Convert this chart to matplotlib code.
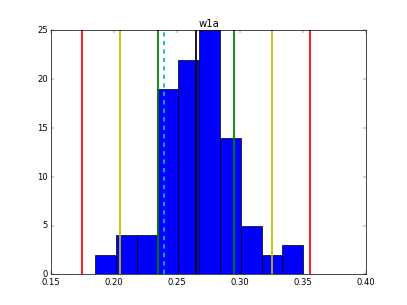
import numpy as np
import matplotlib
matplotlib.use('Agg')
import matplotlib.pyplot as plt

plt.style.use('classic')

# Гистограмма: границы корзин и количества
bin_edges = np.linspace(0.185, 0.35, 11)
counts = [2, 4, 4, 19, 22, 25, 14, 5, 2, 3]

# Вертикальные линии: среднее, ±1σ, ±2σ, ±3σ, медиана
mean_val = 0.265
sigma_lines = [0.235, 0.295]
two_sigma_lines = [0.205, 0.325]
three_sigma_lines = [0.175, 0.355]
median_val = 0.24

fig = plt.figure(figsize=(8, 6), dpi=50.875)
ax = fig.add_subplot(111)

ax.hist(bin_edges[:-1], bins=bin_edges, weights=counts, color='b')

for x in three_sigma_lines:
    ax.axvline(x, color='r', lw=2.5)
for x in two_sigma_lines:
    ax.axvline(x, color='y', lw=2.5)
for x in sigma_lines:
    ax.axvline(x, color='g', lw=2.5)
ax.axvline(mean_val, color='k', lw=2.5)
ax.axvline(median_val, color='c', lw=2.5, ls='--')

ax.set_xlim(0.15, 0.40)
ax.set_ylim(0, 25)
ax.set_xticks(np.arange(0.15, 0.401, 0.05))
ax.set_yticks(range(0, 26, 5))
ax.set_title('w1a')

fig.savefig('out.png', dpi=50.875)
plt.close(fig)
